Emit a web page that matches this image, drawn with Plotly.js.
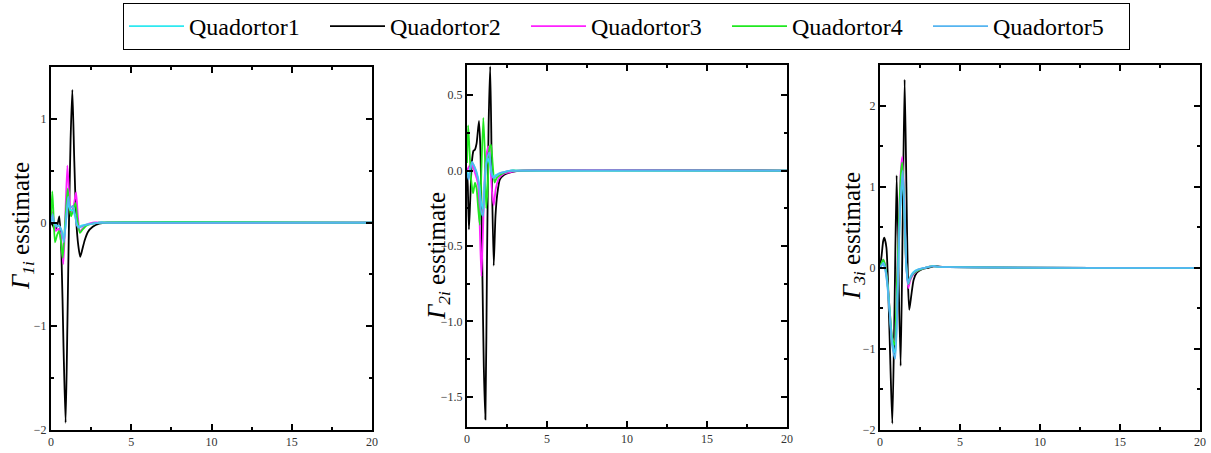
<!DOCTYPE html>
<html>
<head>
<meta charset="utf-8">
<script src="https://cdn.plot.ly/plotly-3.0.1.min.js"></script>
</head>
<body style="margin:0;padding:0;background:#fff;">
<div id="chart"></div>
<script>
// ---------- data ----------
const seriesNames = ["Quadortor1", "Quadortor2", "Quadortor3", "Quadortor4", "Quadortor5"];
const xTickVals = [0, 5, 10, 15, 20];

// Panel 1: Gamma_1i
const g1_t_q1 = [0, 0.1, 0.2, 0.35, 0.5, 0.65, 0.8, 0.95, 1.07, 1.2, 1.35, 1.5, 1.62, 1.75, 1.9, 2.2, 2.6, 3.0, 3.5, 20];
const g1_y_q1 = [0.0, 0.05, 0.0, -0.03, -0.03, -0.07, -0.15, 0.03, 0.2, 0.12, 0.12, 0.06, -0.02, -0.04, -0.03, -0.02, -0.01, 0, 0, 0];
const g1_t_q2 = [0, 0.12, 0.25, 0.4, 0.52, 0.65, 0.78, 0.91, 1.02, 1.12, 1.22, 1.33, 1.45, 1.58, 1.7, 1.82, 1.95, 2.1, 2.3, 2.6, 3.0, 3.5, 4.0, 20];
const g1_y_q2 = [0, -0.03, -0.07, -0.02, 0.06, -0.3, -1.2, -1.93, -1.0, 0.0, 0.8, 1.28, 0.6, 0.0, -0.22, -0.33, -0.26, -0.17, -0.09, -0.04, -0.01, 0, 0, 0];
const g1_t_q3 = [0, 0.1, 0.2, 0.3, 0.45, 0.6, 0.77, 0.9, 1.02, 1.12, 1.25, 1.4, 1.56, 1.68, 1.8, 1.95, 2.2, 2.6, 3.0, 20];
const g1_y_q3 = [0.05, 0.1, -0.02, -0.08, -0.06, -0.12, -0.40, 0.1, 0.55, 0.3, 0.09, 0.15, 0.29, 0.05, -0.09, -0.06, -0.02, 0, 0, 0];
const g1_t_q4 = [0, 0.08, 0.15, 0.25, 0.38, 0.5, 0.62, 0.73, 0.88, 1.04, 1.15, 1.25, 1.38, 1.52, 1.65, 1.8, 1.95, 2.2, 2.6, 3.0, 20];
const g1_y_q4 = [0.05, 0.30, 0.1, -0.19, -0.12, -0.08, -0.18, -0.34, 0.0, 0.33, 0.15, 0.06, 0.12, 0.19, 0.02, -0.10, -0.07, -0.03, -0.01, 0, 0];
const g1_t_q5 = [0, 0.1, 0.2, 0.35, 0.5, 0.65, 0.8, 0.95, 1.07, 1.2, 1.35, 1.5, 1.62, 1.75, 1.9, 2.2, 2.6, 3.0, 3.5, 20];
const g1_y_q5 = [0.0, 0.08, -0.01, -0.04, -0.03, -0.08, -0.19, 0.05, 0.25, 0.14, 0.16, 0.08, -0.03, -0.05, -0.04, -0.02, -0.01, 0, 0, 0];

// Panel 2: Gamma_2i
const g2_t_q1 = [0, 0.1, 0.2, 0.32, 0.45, 0.6, 0.75, 0.9, 1.0, 1.1, 1.2, 1.3, 1.42, 1.55, 1.65, 1.8, 2.0, 2.3, 2.7, 3.2, 20];
const g2_y_q1 = [-0.01, -0.04, 0.01, 0.05, 0.03, -0.01, -0.08, -0.22, -0.25, -0.08, 0.04, 0.08, 0.05, -0.02, -0.04, -0.03, -0.02, -0.01, 0, 0, 0];
const g2_t_q2 = [0, 0.05, 0.12, 0.2, 0.3, 0.4, 0.5, 0.6, 0.75, 0.85, 0.95, 1.05, 1.15, 1.25, 1.35, 1.45, 1.55, 1.67, 1.78, 1.9, 2.05, 2.3, 2.6, 3.0, 3.5, 20];
const g2_y_q2 = [0, -0.1, -0.39, -0.2, 0.05, 0.13, 0.14, 0.18, 0.33, 0.1, -0.6, -1.3, -1.65, -0.6, 0.3, 0.69, 0.0, -0.63, -0.3, -0.15, -0.06, -0.03, -0.015, -0.005, 0, 0];
const g2_t_q3 = [0, 0.15, 0.3, 0.45, 0.6, 0.7, 0.8, 0.9, 1.0, 1.1, 1.2, 1.35, 1.45, 1.57, 1.67, 1.8, 2.0, 2.3, 2.7, 3.2, 20];
const g2_y_q3 = [0, 0.03, 0.05, 0.0, -0.05, -0.1, -0.38, -0.70, -0.4, -0.05, 0.1, 0.16, 0.05, -0.15, -0.23, -0.12, -0.05, -0.02, -0.01, 0, 0];
const g2_t_q4 = [0, 0.07, 0.15, 0.25, 0.38, 0.5, 0.6, 0.7, 0.8, 0.9, 1.02, 1.12, 1.2, 1.3, 1.4, 1.5, 1.6, 1.72, 1.85, 2.05, 2.4, 2.8, 3.2, 20];
const g2_y_q4 = [0.05, 0.30, 0.15, -0.05, -0.15, -0.08, -0.12, -0.25, -0.36, 0.0, 0.35, 0.1, -0.25, -0.1, 0.15, 0.17, 0.05, -0.08, -0.05, -0.03, -0.01, 0, 0, 0];
const g2_t_q5 = [0, 0.1, 0.2, 0.32, 0.45, 0.6, 0.75, 0.9, 1.0, 1.1, 1.2, 1.3, 1.4, 1.55, 1.65, 1.8, 2.0, 2.3, 2.7, 3.2, 20];
const g2_y_q5 = [-0.02, -0.06, 0.0, 0.06, 0.03, -0.02, -0.1, -0.28, -0.3, -0.1, 0.05, 0.1, 0.12, -0.03, -0.05, -0.04, -0.02, -0.01, 0, 0, 0];

// Panel 3: Gamma_3i
const g3_t_q1 = [0, 0.1, 0.2, 0.3, 0.45, 0.6, 0.75, 0.95, 1.1, 1.25, 1.42, 1.55, 1.65, 1.75, 1.9, 2.1, 2.4, 2.8, 3.3, 3.8, 20];
const g3_y_q1 = [0, 0.03, 0.06, 0.02, -0.18, -0.52, -0.9, -1.05, -0.3, 0.65, 1.12, 0.55, 0.0, -0.18, -0.11, -0.05, -0.02, 0.0, 0.02, 0.01, 0];
const g3_t_q2 = [0, 0.1, 0.2, 0.27, 0.4, 0.52, 0.65, 0.77, 0.9, 1.04, 1.15, 1.29, 1.42, 1.54, 1.65, 1.75, 1.83, 1.95, 2.1, 2.3, 2.6, 3.0, 3.5, 4.0, 20];
const g3_y_q2 = [0, 0.15, 0.33, 0.37, 0.25, -0.3, -1.2, -1.92, -0.6, 1.14, 0.0, -1.21, 0.6, 2.32, 1.0, -0.2, -0.52, -0.35, -0.15, -0.06, -0.02, 0.0, 0.02, 0.01, 0];
const g3_t_q3 = [0, 0.1, 0.2, 0.3, 0.45, 0.6, 0.75, 0.9, 1.05, 1.2, 1.3, 1.39, 1.5, 1.62, 1.77, 1.9, 2.1, 2.4, 2.8, 3.3, 3.8, 20];
const g3_y_q3 = [0, 0.05, 0.1, 0.05, -0.15, -0.5, -0.85, -0.93, -0.2, 0.7, 1.2, 1.37, 0.9, 0.1, -0.25, -0.15, -0.08, -0.03, 0.0, 0.02, 0.01, 0];
const g3_t_q4 = [0, 0.1, 0.2, 0.3, 0.45, 0.6, 0.75, 0.9, 1.05, 1.2, 1.3, 1.39, 1.5, 1.62, 1.77, 1.9, 2.1, 2.4, 2.8, 3.3, 3.8, 20];
const g3_y_q4 = [0, 0.06, 0.1, 0.05, -0.15, -0.5, -0.85, -0.95, -0.25, 0.65, 1.15, 1.3, 0.85, 0.1, -0.2, -0.13, -0.07, -0.03, 0.0, 0.02, 0.01, 0];
const g3_t_q5 = [0, 0.1, 0.2, 0.3, 0.45, 0.6, 0.75, 0.95, 1.1, 1.25, 1.42, 1.55, 1.65, 1.75, 1.9, 2.1, 2.4, 2.8, 3.3, 3.8, 20];
const g3_y_q5 = [0, 0.03, 0.05, 0.0, -0.2, -0.55, -0.95, -1.12, -0.3, 0.7, 1.2, 0.6, 0.0, -0.2, -0.12, -0.06, -0.02, 0.0, 0.02, 0.01, 0];

const yTitles = ["<i>Γ</i><sub><i>1i</i></sub> esstimate", "<i>Γ</i><sub><i>2i</i></sub> esstimate", "<i>Γ</i><sub><i>3i</i></sub> esstimate"];

// ---------- styling ----------
const colors = ["#2ee8f0", "#000000", "#ff20ff", "#20e820", "#55b4f0"];
const serif = "Liberation Serif";

const panels = [
  {t: [g1_t_q1, g1_t_q2, g1_t_q3, g1_t_q4, g1_t_q5], y: [g1_y_q1, g1_y_q2, g1_y_q3, g1_y_q4, g1_y_q5]},
  {t: [g2_t_q1, g2_t_q2, g2_t_q3, g2_t_q4, g2_t_q5], y: [g2_y_q1, g2_y_q2, g2_y_q3, g2_y_q4, g2_y_q5]},
  {t: [g3_t_q1, g3_t_q2, g3_t_q3, g3_t_q4, g3_t_q5], y: [g3_y_q1, g3_y_q2, g3_y_q3, g3_y_q4, g3_y_q5]}
];

const traces = [];
const order = [1, 2, 3, 0, 4]; // draw order
panels.forEach((p, pi) => {
  const suffix = pi === 0 ? "" : String(pi + 1);
  order.forEach(si => {
    traces.push({
      x: p.t[si], y: p.y[si], type: "scatter", mode: "lines",
      name: seriesNames[si], legendrank: si + 1,
      showlegend: pi === 0,
      xaxis: "x" + suffix, yaxis: "y" + suffix,
      line: {color: colors[si], width: 1.8, shape: "spline", smoothing: 0.6}
    });
  });
});

const W = 1211, H = 453;
const dom = [
  {x: [51, 372], y: [67, 430], range: [-2, 1.5], dtick: 1, minor: 0.5, fmt: ""},
  {x: [467, 787], y: [65, 427], range: [-1.7, 0.7], dtick: 0.5, minor: 0.25, fmt: ".1f"},
  {x: [880, 1200], y: [65, 430], range: [-2, 2.5], dtick: 1, minor: 0.5, fmt: ""}
];

const layout = {
  width: W, height: H,
  margin: {l: 0, r: 0, t: 0, b: 0},
  paper_bgcolor: "#fff", plot_bgcolor: "#fff",
  font: {family: serif},
  showlegend: true,
  hovermode: false,
  legend: {
    orientation: "h", x: 123 / W, xanchor: "left", y: 1 - 3 / H, yanchor: "top",
    bordercolor: "#000", borderwidth: 1, bgcolor: "#fff",
    font: {family: serif, size: 24, color: "#000"},
    entrywidth: 131, entrywidthmode: "pixels", itemwidth: 55,
    traceorder: "normal"
  },
  annotations: []
};

const titlePos = [[22, 226], [438, 256], [853, 236]];
dom.forEach((d, i) => {
  const suffix = i === 0 ? "" : String(i + 1);
  layout["xaxis" + suffix] = {
    domain: [d.x[0] / W, d.x[1] / W], range: [0, 20], anchor: "y" + suffix,
    tickvals: xTickVals, ticks: "inside", ticklen: 6, tickwidth: 1.5, tickcolor: "#000",
    minor: {dtick: 2.5, ticks: "inside", ticklen: 3, tickwidth: 1.5, tickcolor: "#000"},
    showline: true, linecolor: "#000", linewidth: 2, mirror: "ticks",
    showgrid: false, zeroline: false, tickfont: {family: serif, size: 12, color: "#333"},
    fixedrange: true
  };
  layout["yaxis" + suffix] = {
    domain: [1 - d.y[1] / H, 1 - d.y[0] / H], range: d.range, anchor: "x" + suffix,
    dtick: d.dtick, tick0: 0, tickformat: d.fmt, ticks: "inside", ticklen: 6, tickwidth: 1.5, tickcolor: "#000",
    minor: {dtick: d.minor, ticks: "inside", ticklen: 3, tickwidth: 1.5, tickcolor: "#000"},
    showline: true, linecolor: "#000", linewidth: 2, mirror: "ticks",
    showgrid: false, zeroline: false, tickfont: {family: serif, size: 12, color: "#333"},
    fixedrange: true
  };
  layout.annotations.push({
    text: yTitles[i], xref: "paper", yref: "paper",
    x: titlePos[i][0] / W, y: 1 - titlePos[i][1] / H, xanchor: "center", yanchor: "middle",
    textangle: -90, showarrow: false, font: {family: serif, size: 25, color: "#000"}
  });
});

Plotly.newPlot("chart", traces, layout, {displayModeBar: false}).then(gd => {
  gd.querySelectorAll("text").forEach(t => { t.style.fontFamily = "Liberation Serif"; });
});
</script>
</body>
</html>
